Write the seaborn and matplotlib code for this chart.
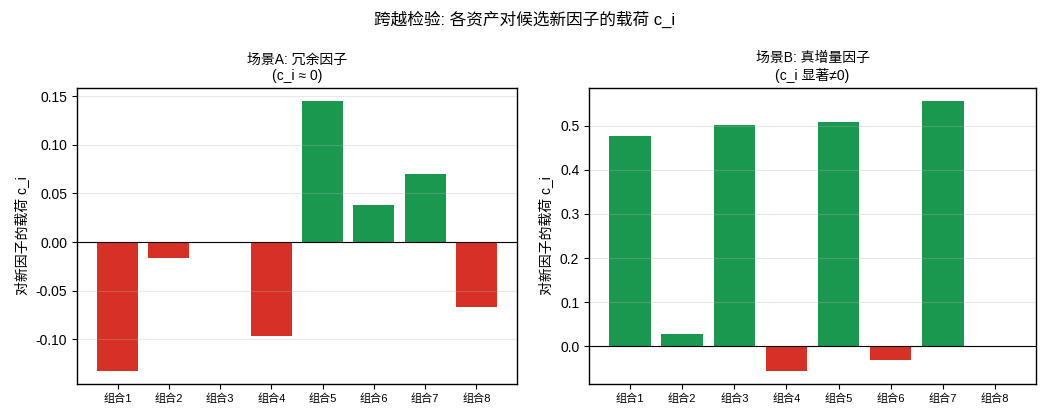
import matplotlib
matplotlib.use("Agg")
import matplotlib.pyplot as plt
import seaborn as sns
import pandas as pd

categories = ["组合1", "组合2", "组合3", "组合4", "组合5", "组合6", "组合7", "组合8"]
loadings_a = [-0.1324, -0.0169, 0.0003, -0.0963, 0.1448, 0.0385, 0.0705, -0.0674]
loadings_b = [0.478, 0.028, 0.503, -0.0553, 0.5076, -0.0303, 0.5553, 0.0002]
titles = ["场景A: 冗余因子\n(c_i ≈ 0)", "场景B: 真增量因子\n(c_i 显著≠0)"]
suptitle = "跨越检验: 各资产对候选新因子的载荷 c_i"
ylabel = "对新因子的载荷 c_i"

GREEN = "#1a9850"
RED = "#d73027"

plt.rcParams["font.family"] = ["Liberation Sans", "Noto Sans CJK SC", "DejaVu Sans"]
plt.rcParams["axes.unicode_minus"] = False

fig, axes = plt.subplots(1, 2, figsize=(10.5, 4.2), dpi=100)
positions = [[77/1050, 36/420, 440/1050, 296/420],
             [589/1050, 36/420, 447/1050, 296/420]]

for ax, vals, title, pos in zip(axes, [loadings_a, loadings_b], titles, positions):
    df = pd.DataFrame({"组合": categories, "载荷": vals})
    colors = [GREEN if v > 0 else RED for v in vals]
    sns.barplot(data=df, x="组合", y="载荷", hue="组合", palette=colors,
                legend=False, ax=ax, width=0.8, saturation=1)
    for p in ax.patches:
        p.set_zorder(1)
    ax.set_xlim(-0.79, 7.79)
    ax.axhline(0, color="black", linewidth=0.8, zorder=3)
    ax.set_axisbelow(False)
    ax.yaxis.grid(True, color="#b0b0b0", alpha=0.3, linewidth=0.8, zorder=2)
    ax.xaxis.grid(False)
    ax.set_title(title, fontsize=10)
    ax.set_ylabel(ylabel, fontsize=10)
    ax.set_xlabel("")
    ax.tick_params(axis="x", labelsize=8)
    ax.tick_params(axis="y", labelsize=10)
    for s in ax.spines.values():
        s.set_visible(True)
        s.set_color("black")
        s.set_linewidth(1.0)
    ax.set_position(pos)

fig.suptitle(suptitle, fontsize=12, y=0.975)
fig.savefig("out.png", dpi=100)
